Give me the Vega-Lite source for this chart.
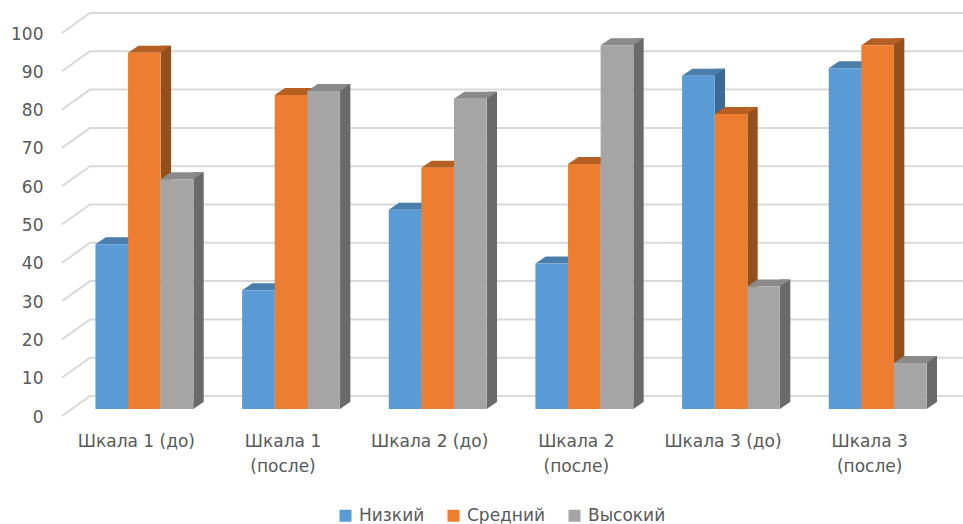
{
"$schema":"https://vega.github.io/schema/vega-lite/v6.json",
"width":880,"height":383,
"autosize":{"type":"none"},
"padding":{"left":71,"top":26,"right":12,"bottom":115},
"background":"white",
"config":{"view":{"stroke":null},"font":"DejaVu Sans","axisY":{"labelOverlap":false,"labelBound":false,"tickCount":11}},
"datasets":{
"bars":[
{"scale":"Шкала 1 (до)","level":"Низкий","value":43},{"scale":"Шкала 1 (до)","level":"Средний","value":93},{"scale":"Шкала 1 (до)","level":"Высокий","value":60},
{"scale":"Шкала 1 (после)","level":"Низкий","value":31},{"scale":"Шкала 1 (после)","level":"Средний","value":82},{"scale":"Шкала 1 (после)","level":"Высокий","value":83},
{"scale":"Шкала 2 (до)","level":"Низкий","value":52},{"scale":"Шкала 2 (до)","level":"Средний","value":63},{"scale":"Шкала 2 (до)","level":"Высокий","value":81},
{"scale":"Шкала 2 (после)","level":"Низкий","value":38},{"scale":"Шкала 2 (после)","level":"Средний","value":64},{"scale":"Шкала 2 (после)","level":"Высокий","value":95},
{"scale":"Шкала 3 (до)","level":"Низкий","value":87},{"scale":"Шкала 3 (до)","level":"Средний","value":77},{"scale":"Шкала 3 (до)","level":"Высокий","value":32},
{"scale":"Шкала 3 (после)","level":"Низкий","value":89},{"scale":"Шкала 3 (после)","level":"Средний","value":95},{"scale":"Шкала 3 (после)","level":"Высокий","value":12}
],
"ticks":[{"tick":0},{"tick":10},{"tick":20},{"tick":30},{"tick":40},{"tick":50},{"tick":60},{"tick":70},{"tick":80},{"tick":90},{"tick":100}]
},
"layer":[
{"data":{"name":"ticks"},
 "mark":{"type":"point","shape":"M-449,7 L-421,-13 L452,-13","filled":false,"size":4,"stroke":"#D9D9D9","strokeWidth":2,"opacity":1},
 "encoding":{"y":{"field":"tick","type":"quantitative","scale":{"domain":[0,100],"nice":false},
   "axis":{"title":null,"domain":false,"ticks":false,"grid":false,"values":[0,10,20,30,40,50,60,70,80,90,100],"labelOverlap":false,"labelFontSize":17,"labelColor":"#595959","labelPadding":28,"labelOffset":8}}}},
{"data":{"name":"bars"},
 "mark":{"type":"bar","width":10.3,"yOffset":-7,"y2Offset":-7},
 "encoding":{
  "x":{"field":"scale","type":"nominal","sort":null,"scale":{"paddingInner":0.333,"paddingOuter":0.1667},
   "axis":{"title":null,"domain":false,"ticks":false,"labelAngle":0,"labelFontSize":17,"labelColor":"#595959","labelPadding":24,"labelOffset":-8,"labelBaseline":"top","labelLineHeight":25,"labelLimit":200,
    "labelExpr":"split(replace(datum.label,' (после)','|(после)'),'|')"}},
  "xOffset":{"field":"level","type":"nominal","sort":["Низкий","Средний","Высокий"],"scale":{"range":[21.45,119.45]}},
  "y":{"field":"value","type":"quantitative"},
  "y2":{"datum":0},
  "fill":{"field":"level","type":"nominal","scale":{"domain":["Низкий","Средний","Высокий"],"range":["#3A6A95","#93501D","#6A6A6A"]},"legend":null}}},
{"data":{"name":"bars"},
 "mark":{"type":"point","shape":"M16.3,0 L26.6,-7 L16.3,-7 Z","filled":true,"size":4,"opacity":1},
 "encoding":{
  "x":{"field":"scale","type":"nominal","sort":null},
  "xOffset":{"field":"level","type":"nominal","sort":["Низкий","Средний","Высокий"]},
  "y":{"datum":0},
  "fill":{"field":"level","type":"nominal","scale":{"domain":["Низкий","Средний","Высокий"],"range":["#3A6A95","#93501D","#6A6A6A"]},"legend":null}}},
{"data":{"name":"bars"},
 "mark":{"type":"point","shape":"M-16.3,0 L16.3,0 L26.6,-7 L-6,-7 Z","filled":true,"size":4,"opacity":1},
 "encoding":{
  "x":{"field":"scale","type":"nominal","sort":null},
  "xOffset":{"field":"level","type":"nominal","sort":["Низкий","Средний","Высокий"]},
  "y":{"field":"value","type":"quantitative"},
  "fill":{"field":"level","type":"nominal","scale":{"domain":["Низкий","Средний","Высокий"],"range":["#4A7EAB","#B55F22","#8A8A8A"]},"legend":null}}},
{"data":{"name":"bars"},
 "mark":{"type":"bar"},
 "encoding":{
  "x":{"field":"scale","type":"nominal","sort":null},
  "xOffset":{"field":"level","type":"nominal","sort":["Низкий","Средний","Высокий"]},
  "y":{"field":"value","type":"quantitative"},
  "color":{"field":"level","type":"nominal","scale":{"domain":["Низкий","Средний","Высокий"],"range":["#5B9BD5","#ED7D31","#A5A5A5"]},
   "legend":{"title":null,"orient":"none","legendX":266,"legendY":481,"direction":"horizontal","symbolType":"square","symbolSize":144,"labelFontSize":17,"labelColor":"#595959","columnPadding":20,"symbolStrokeWidth":0,"labelOffset":5}}}}
],
"resolve":{"scale":{"fill":"independent","color":"independent","xOffset":"independent"}}
}
